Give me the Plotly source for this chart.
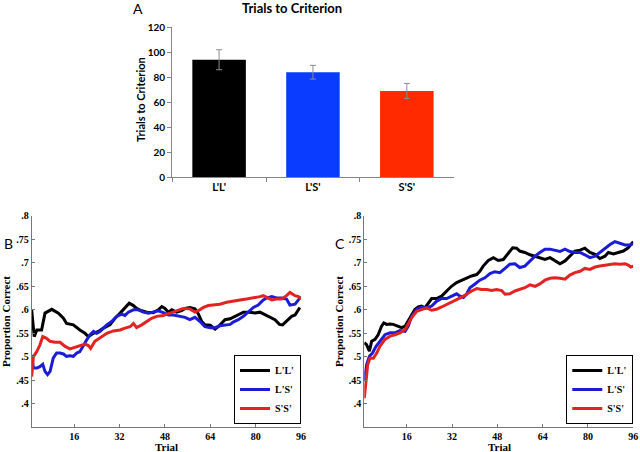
import plotly.graph_objects as go

# ---------------- data ----------------
groups = ["L'L'", "L'S'", "S'S'"]
trials_mean = [94, 84, 69]
trials_err = [8, 5.5, 6]
bar_colors = ["#000000", "#0a3cff", "#ff2a00"]

series_names = ["L'L'", "L'S'", "S'S'"]
line_colors = ["#000000", "#1c1cd8", "#e32222"]

# Panel B
b_ll_t = [1, 1.9, 2.8, 3.9, 4.5, 5.7, 8.1, 10.4, 12.2, 13.3, 15.7, 18.0, 19.8, 21.0, 22.8, 24.5, 26.3, 28.6, 30.4, 32.2,
          33.9, 35.4, 36.9, 38.0, 39.8, 41.6, 43.9, 45.7, 46.9, 48.0, 49.2, 50.4, 52.1, 53.9, 55.1, 56.8, 58.6, 59.8, 61.0,
          62.1, 64.0, 65.7, 66.8, 68.0, 69.2, 71.0, 72.1, 73.3, 75.7, 78.0, 79.8, 81.5, 83.3, 85.1, 86.8, 88.4, 89.5, 90.9,
          92.7, 93.9, 95.6]
b_ll_v = [0.600, 0.543, 0.557, 0.557, 0.557, 0.593, 0.601, 0.593, 0.582, 0.571, 0.568, 0.557, 0.550, 0.543, 0.550, 0.554,
          0.561, 0.568, 0.582, 0.593, 0.603, 0.614, 0.609, 0.603, 0.598, 0.595, 0.594, 0.600, 0.607, 0.603, 0.595, 0.600,
          0.595, 0.598, 0.603, 0.605, 0.602, 0.591, 0.575, 0.568, 0.567, 0.559, 0.564, 0.571, 0.579, 0.581, 0.584, 0.588,
          0.595, 0.595, 0.593, 0.595, 0.589, 0.584, 0.579, 0.569, 0.568, 0.576, 0.586, 0.589, 0.605]

b_ls_t = [1, 1.6, 2.8, 3.9, 4.9, 5.7, 6.6, 7.5, 8.6, 9.8, 11.0, 12.2, 13.3, 14.5, 15.7, 16.9, 18.0, 19.2, 20.4, 21.6, 22.8,
          23.9, 25.1, 26.3, 27.5, 29.2, 31.0, 32.7, 33.9, 35.1, 36.9, 38.6, 40.4, 42.2, 43.9, 45.7, 47.4, 49.2, 51.0, 53.3,
          55.1, 56.8, 58.6, 60.4, 62.1, 64.0, 65.7, 67.4, 69.2, 71.0, 72.1, 73.9, 75.7, 77.4, 79.2, 80.9, 82.7, 83.9, 85.7,
          87.4, 89.2, 90.9, 92.1, 93.9, 95.1, 96.0]
b_ls_v = [0.504, 0.476, 0.476, 0.479, 0.484, 0.469, 0.462, 0.469, 0.497, 0.508, 0.508, 0.506, 0.501, 0.502, 0.501, 0.508,
          0.511, 0.525, 0.536, 0.547, 0.554, 0.550, 0.554, 0.561, 0.568, 0.575, 0.586, 0.591, 0.588, 0.595, 0.600, 0.600,
          0.595, 0.593, 0.595, 0.598, 0.594, 0.589, 0.589, 0.586, 0.584, 0.579, 0.584, 0.575, 0.564, 0.562, 0.562, 0.566,
          0.568, 0.569, 0.574, 0.579, 0.586, 0.595, 0.605, 0.610, 0.621, 0.625, 0.628, 0.625, 0.625, 0.623, 0.610, 0.612,
          0.621, 0.628]

b_ss_t = [1, 1.6, 2.8, 3.9, 4.9, 6.1, 7.5, 9.2, 11.0, 12.8, 14.5, 16.3, 18.0, 19.8, 21.0, 21.8, 23.3, 25.1, 27.5, 29.8,
          32.2, 33.9, 35.7, 36.9, 38.0, 39.8, 41.6, 43.3, 45.1, 47.4, 49.8, 52.1, 54.5, 56.8, 58.6, 59.8, 61.6, 63.3, 65.1,
          67.4, 69.8, 72.1, 74.5, 76.8, 79.2, 81.5, 82.7, 83.9, 85.7, 87.4, 89.2, 90.9, 92.1, 93.9, 95.1, 96.0]
b_ss_v = [0.458, 0.500, 0.511, 0.525, 0.543, 0.540, 0.533, 0.531, 0.531, 0.522, 0.517, 0.520, 0.524, 0.527, 0.524, 0.518,
          0.533, 0.540, 0.550, 0.555, 0.557, 0.561, 0.564, 0.571, 0.562, 0.568, 0.575, 0.582, 0.586, 0.588, 0.593, 0.598,
          0.603, 0.602, 0.595, 0.598, 0.605, 0.609, 0.610, 0.612, 0.616, 0.619, 0.621, 0.623, 0.625, 0.628, 0.630, 0.626,
          0.621, 0.623, 0.623, 0.630, 0.637, 0.630, 0.628, 0.623]

# Panel C
c_ll_t = [1, 1.8, 2.8, 3.6, 4.8, 5.9, 7.1, 7.9, 8.9, 10.1, 11.2, 12.7, 14.2, 15.4, 16.5, 17.7, 18.9, 20.1, 21.2, 22.4,
          23.6, 24.8, 26.5, 28.3, 30.1, 31.8, 33.6, 35.4, 37.1, 38.9, 40.7, 41.8, 43.0, 44.8, 46.6, 48.3, 50.1, 51.9, 53.4,
          54.8, 55.9, 57.7, 59.5, 61.3, 63.0, 64.8, 66.6, 68.3, 70.1, 71.9, 73.6, 75.4, 77.2, 78.9, 80.7, 82.5, 84.2, 86.0,
          87.2, 89.0, 90.7, 92.5, 94.2, 96.0]
c_ll_v = [0.530, 0.526, 0.512, 0.533, 0.537, 0.547, 0.565, 0.572, 0.569, 0.570, 0.569, 0.565, 0.562, 0.565, 0.576, 0.590,
          0.601, 0.606, 0.608, 0.604, 0.615, 0.624, 0.624, 0.629, 0.640, 0.650, 0.658, 0.663, 0.667, 0.672, 0.675, 0.682,
          0.693, 0.705, 0.711, 0.705, 0.707, 0.722, 0.732, 0.731, 0.725, 0.722, 0.717, 0.714, 0.711, 0.707, 0.711, 0.704,
          0.698, 0.704, 0.714, 0.725, 0.727, 0.731, 0.722, 0.718, 0.709, 0.714, 0.722, 0.719, 0.722, 0.725, 0.732, 0.745]

c_ls_t = [1, 1.8, 2.8, 3.9, 5.1, 6.5, 8.3, 10.1, 11.8, 13.6, 15.4, 16.5, 17.7, 19.5, 21.2, 23.0, 24.8, 26.5, 28.3, 30.1,
          31.8, 33.6, 34.8, 36.0, 37.1, 38.3, 40.1, 41.8, 43.6, 45.4, 47.1, 48.9, 50.7, 52.4, 54.2, 55.9, 57.7, 59.5, 61.3,
          63.0, 64.8, 66.6, 68.3, 70.1, 71.9, 73.6, 75.4, 77.2, 78.9, 80.7, 82.5, 84.2, 86.0, 87.8, 89.5, 91.3, 93.1, 94.8,
          96.0]
c_ls_v = [0.448, 0.483, 0.501, 0.508, 0.522, 0.533, 0.547, 0.551, 0.551, 0.556, 0.554, 0.565, 0.586, 0.601, 0.606, 0.604,
          0.608, 0.618, 0.624, 0.624, 0.629, 0.634, 0.629, 0.626, 0.633, 0.647, 0.655, 0.663, 0.668, 0.677, 0.681, 0.679,
          0.688, 0.697, 0.698, 0.690, 0.693, 0.704, 0.714, 0.722, 0.729, 0.729, 0.727, 0.724, 0.729, 0.724, 0.722, 0.722,
          0.717, 0.711, 0.714, 0.722, 0.731, 0.739, 0.745, 0.741, 0.738, 0.738, 0.741]

c_ss_t = [1, 1.6, 2.2, 3.0, 4.2, 5.4, 6.5, 8.3, 10.1, 11.8, 13.6, 15.4, 16.5, 17.7, 19.5, 21.2, 23.0, 24.8, 26.5, 28.3,
          30.1, 31.8, 33.6, 35.4, 37.1, 38.9, 40.7, 42.4, 44.2, 46.0, 47.7, 49.5, 50.7, 52.4, 54.2, 55.9, 57.7, 59.5, 61.3,
          63.0, 64.8, 66.6, 68.3, 70.1, 71.9, 73.6, 75.4, 77.2, 78.9, 80.7, 82.5, 84.2, 86.0, 87.8, 89.5, 91.3, 93.1, 94.2,
          95.1, 96.0]
c_ss_v = [0.412, 0.448, 0.483, 0.497, 0.497, 0.508, 0.522, 0.537, 0.544, 0.547, 0.551, 0.558, 0.569, 0.583, 0.597, 0.601,
          0.604, 0.599, 0.601, 0.606, 0.611, 0.617, 0.622, 0.627, 0.633, 0.640, 0.645, 0.643, 0.643, 0.641, 0.643, 0.641,
          0.633, 0.634, 0.640, 0.643, 0.647, 0.653, 0.650, 0.655, 0.663, 0.667, 0.668, 0.667, 0.665, 0.674, 0.679, 0.682,
          0.688, 0.686, 0.691, 0.693, 0.695, 0.697, 0.698, 0.697, 0.698, 0.695, 0.691, 0.693]

y_ticks = [0.4, 0.45, 0.5, 0.55, 0.6, 0.65, 0.7, 0.75, 0.8]
y_ticktext = [".4", ".45", ".5", ".55", ".6", ".65", ".7", ".75", ".8"]
x_ticks = [16, 32, 48, 64, 80, 96]

# ---------------- figure ----------------
SANS = "Lato"
SERIF = "Liberation Serif"
W, H = 640, 452
AXIS_GRAY = "#777777"

fig = go.Figure()

fig.add_trace(go.Bar(
    x=groups, y=trials_mean, marker=dict(color=bar_colors, line=dict(width=0)),
    error_y=dict(type="data", array=trials_err, color="#8c8c8c", thickness=1, width=3),
    xaxis="x", yaxis="y", showlegend=False))

panel_b = [(b_ll_t, b_ll_v), (b_ls_t, b_ls_v), (b_ss_t, b_ss_v)]
panel_c = [(c_ll_t, c_ll_v), (c_ls_t, c_ls_v), (c_ss_t, c_ss_v)]
for i, (t, v) in enumerate(panel_b):
    fig.add_trace(go.Scatter(x=t, y=v, mode="lines", name=series_names[i],
                             line=dict(color=line_colors[i], width=3),
                             xaxis="x2", yaxis="y2", legend="legend"))
for i, (t, v) in enumerate(panel_c):
    fig.add_trace(go.Scatter(x=t, y=v, mode="lines", name=series_names[i],
                             line=dict(color=line_colors[i], width=3),
                             xaxis="x3", yaxis="y3", legend="legend2"))

serif_tick = dict(family=SERIF, size=10, color="#000", weight="bold")
line_x = dict(range=[1, 96], tickvals=x_ticks, showline=True, linecolor=AXIS_GRAY, linewidth=1,
              ticks="inside", ticklen=3, tickcolor=AXIS_GRAY, showgrid=False, zeroline=False,
              tickfont=serif_tick, automargin=False)
line_y = dict(range=[0.35, 0.8], tickvals=y_ticks, ticktext=y_ticktext, showline=True, linecolor=AXIS_GRAY,
              linewidth=1, ticks="inside", ticklen=3, tickcolor=AXIS_GRAY, showgrid=False, zeroline=False,
              tickfont=serif_tick, automargin=False)

legend_common = dict(bgcolor="white", bordercolor="#000", borderwidth=1,
                     font=dict(family=SERIF, size=10, color="#000", weight="bold"),
                     xanchor="right", yanchor="bottom", tracegroupgap=0, itemwidth=30)

serif_title = dict(family=SERIF, size=11, color="#000", weight="bold")


def ann(text, x, y, font, angle=0):
    return dict(text=text, x=x / W, y=1 - y / H, xref="paper", yref="paper", showarrow=False,
                font=font, textangle=angle, xanchor="center", yanchor="middle")


fig.update_layout(
    width=W, height=H, margin=dict(l=0, r=0, t=0, b=0, autoexpand=False),
    paper_bgcolor="white", plot_bgcolor="white",
    bargap=0.43,
    xaxis=dict(domain=[0.269, 0.709], anchor="y", showline=True, linecolor="#868686", linewidth=1,
               ticks="outside", ticklen=4, tickcolor="#868686", tickson="boundaries", automargin=False,
               tickfont=dict(family=SANS, size=11, color="#000", weight="bold"), range=[-0.5, 2.5]),
    yaxis=dict(domain=[0.6084, 0.9396], anchor="x", range=[0, 120], dtick=20, showline=True,
               linecolor="#868686", linewidth=1, ticks="outside", ticklen=4, tickcolor="#868686",
               showgrid=False, zeroline=False, automargin=False,
               tickfont=dict(family=SANS, size=10, color="#000", weight="bold")),
    xaxis2=dict(domain=[0.0495, 0.4703], anchor="y2", **line_x),
    yaxis2=dict(domain=[0.0546, 0.5226], anchor="x2", **line_y),
    xaxis3=dict(domain=[0.5692, 0.9895], anchor="y3", **line_x),
    yaxis3=dict(domain=[0.0546, 0.5226], anchor="x3", **line_y),
    legend=dict(x=0.4703, y=0.062, **legend_common),
    legend2=dict(x=0.9895, y=0.062, **legend_common),
    annotations=[
        ann("A", 138, 8, dict(family=SANS, size=14, color="#000")),
        ann("Trials to Criterion", 292, 8, dict(family=SANS, size=13, color="#000", weight="bold")),
        ann("Trials to Criterion", 140, 100, dict(family=SANS, size=11, color="#000", weight="bold"), -90),
        ann("B", 8, 243, dict(family=SANS, size=14, color="#000")),
        ann("C", 340, 243, dict(family=SANS, size=14, color="#000")),
        ann("Proportion Correct", 6, 322, serif_title, -90),
        ann("Proportion Correct", 339, 322, serif_title, -90),
        ann("Trial", 166, 446.5, serif_title),
        ann("Trial", 499, 446.5, serif_title),
    ],
)

fig.write_html("out.html", config={"displayModeBar": False},
               post_script="document.body.style.margin='0';document.body.style.overflow='hidden';")
